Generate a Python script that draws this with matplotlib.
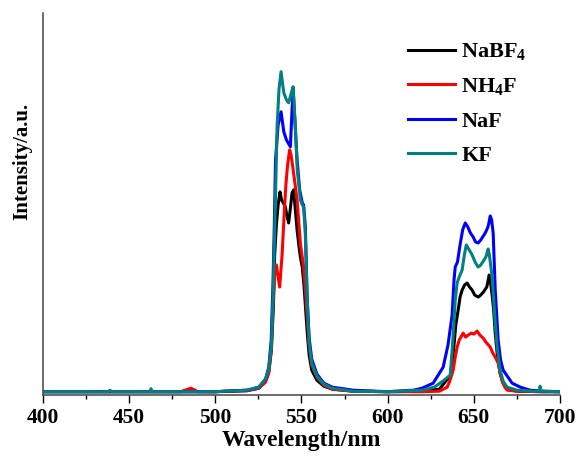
import matplotlib
matplotlib.use("Agg")
import matplotlib.pyplot as plt
from matplotlib.ticker import MultipleLocator, NullLocator

plt.rcParams["font.family"] = ["Liberation Serif", "DejaVu Serif"]
plt.rcParams["font.weight"] = "bold"
plt.rcParams["mathtext.fontset"] = "custom"
plt.rcParams["mathtext.rm"] = "Liberation Serif:bold"
plt.rcParams["mathtext.bf"] = "Liberation Serif:bold"

# ---------- data (a.u.) ----------
labels = [r"NaBF$_4$", r"NH$_4$F", "NaF", "KF"]
colors = ["#000000", "#ff0000", "#0000ff", "#008080"]

wl_nabf4 = [400, 450, 500, 518.5, 525.3, 529.2, 531.1, 532.6, 533.8, 534.5, 535.5, 536.5, 537.6,
            538.5, 539.5, 540.7, 541.5, 542.6, 543.5, 544.6, 545.5, 546.5, 547.5, 548.5, 549.4,
            550.5, 551.5, 552.5, 553.5, 554.5, 556, 559, 563, 568, 580, 600, 620, 630, 636.5,
            638.5, 639.5, 640.9, 642, 643.2, 644.6, 646.1, 647.5, 649, 650.5, 652.5, 654, 655.5,
            657.5, 658.9, 659.5, 660.6, 661.5, 662.4, 663.5, 665.2, 667, 669.3, 675, 690, 700]
in_nabf4 = [3.5, 3.5, 3.5, 4.5, 7, 14, 24, 45, 90, 140, 170, 190, 203,
            195, 192, 188, 180, 172, 185, 202, 205, 185, 165, 150, 138,
            128, 110, 85, 60, 40, 25, 15, 9, 6, 4, 3.5, 4, 6, 20,
            50, 70, 85, 98, 105, 110, 112, 108, 105, 100, 98, 100, 103,
            108, 120, 115, 100, 85, 62, 42, 22, 12, 6, 4, 3.5, 3.5]

wl_nh4f = [400, 450, 480, 486, 490, 500, 518.5, 525.3, 529.2, 531.1, 532.5, 533.5, 534.5, 535.5,
           536.5, 537.4, 538.8, 540, 541, 542, 543.2, 544, 545, 546, 547.5, 548.5, 549.5,
           550.5, 551.5, 552.5, 553.3, 554.5, 556, 559, 563, 568, 580, 600, 620, 630, 634.5,
           636, 638, 639.2, 640.3, 641.5, 643.8, 645.2, 646.7, 648.5, 650, 651.9, 653.5, 655.4,
           657, 659.5, 661, 662.4, 664.1, 665.3, 666.4, 668, 669.3, 675, 690, 700]
in_nh4f = [3.5, 3.5, 3.5, 7, 3.5, 3.5, 4.5, 7, 13, 22, 45, 90, 120, 130,
           118, 108, 140, 180, 210, 230, 245, 240, 228, 215, 195, 172, 150,
           138, 125, 100, 80, 50, 30, 18, 10, 6, 4, 3.5, 3.5, 4, 8,
           14, 25, 38, 48, 55, 62, 58, 60, 62, 61, 64, 60, 57,
           53, 48, 42, 38, 32, 22, 14, 8, 5, 4, 3.5, 3.5]

wl_naf = [400, 450, 500, 518.5, 525.3, 529.2, 531.1, 532.5, 533.5, 534.3, 535.0, 536.5, 538.2,
          539.8, 541.3, 543.6, 544.6, 545.2, 546.2, 547.5, 549, 550.5, 551.3, 552.3, 553.3,
          554.5, 556, 559, 563, 568, 580, 600, 615, 620, 626.4, 632.2, 635, 637.4, 638.5, 639.2,
          640.5, 642, 643.5, 645, 646.5, 648, 649.6, 651, 652.5, 654, 656.6, 657.7, 658.5,
          659.5, 660.3, 661.2, 662.4, 664.1, 665.5, 667, 672.2, 677, 682.6, 690, 700]
in_naf = [3.5, 3.5, 3.5, 5, 8, 16, 28, 55, 110, 170, 235, 270, 283,
          263, 255, 248, 285, 306, 275, 235, 205, 192, 190, 168, 100,
          57, 36, 21, 12, 8, 5, 3.5, 5, 7, 12, 28, 50, 80, 115, 128,
          133, 150, 165, 172, 168, 162, 158, 153, 152, 155, 162, 166, 170,
          179, 175, 162, 105, 55, 35, 25, 12, 8, 5, 4, 3.5]

wl_kf = [400, 438, 439, 440, 462, 462.8, 463.5, 500, 518.5, 525.3, 529.2, 531.1, 532.6, 533.6,
         534.6, 535.9, 537, 538.2, 539.8, 541.3, 542.6, 544.2, 545.2, 546.5, 547.6, 549.4,
         550.5, 551.3, 552.3, 553.3, 554.5, 556, 559, 563, 568, 580, 600, 620, 627, 632,
         636.3, 637.4, 638, 639.2, 640.3, 641.5, 643.2, 644.5, 645.6, 647, 649, 651, 652.5,
         654, 655.5, 657, 658.3, 659, 660.6, 661.5, 662.4, 663.5, 665.2, 667, 669.3, 675,
         685, 688, 688.4, 689, 700]
in_kf = [3.5, 3.5, 5, 3.5, 3.5, 6.5, 3.5, 3.5, 5, 8, 16, 27, 50, 100,
         170, 268, 305, 323, 302, 295, 292, 302, 308, 268, 225, 195,
         190, 188, 160, 98, 52, 32, 19, 11, 7, 4, 3.5, 5, 8, 14,
         20, 45, 60, 95, 112, 118, 125, 140, 150, 146, 140, 132, 128,
         130, 134, 138, 146, 140, 118, 95, 72, 48, 25, 14, 8, 5,
         4, 4, 9, 4, 3.5]

series = [(wl_nabf4, in_nabf4), (wl_nh4f, in_nh4f), (wl_naf, in_naf), (wl_kf, in_kf)]

# ---------- plot ----------
fig = plt.figure(figsize=(5.81, 4.59), dpi=100)
ax = fig.add_axes([0.0735, 0.139, 0.8905, 0.8335])

for (x, y), c, lab in zip(series, colors, labels):
    ax.plot(x, y, color=c, lw=2.2, label=lab)

ax.set_xlim(400, 700)
ax.set_ylim(0, 382)
ax.xaxis.set_major_locator(MultipleLocator(50))
ax.xaxis.set_minor_locator(MultipleLocator(25))
ax.yaxis.set_major_locator(NullLocator())
ax.tick_params(axis="x", which="major", direction="out", length=6, width=1, labelsize=15.5, pad=3)
ax.tick_params(axis="x", which="minor", direction="out", length=3, width=1)

for s in ["top", "right"]:
    ax.spines[s].set_visible(False)
for s in ["left", "bottom"]:
    ax.spines[s].set_color("#444444")
    ax.spines[s].set_linewidth(1.1)

ax.set_xlabel("Wavelength/nm", fontsize=17, fontweight="bold", labelpad=2)
ax.set_ylabel("Intensity/a.u.", fontsize=15, fontweight="bold")
ax.yaxis.set_label_coords(-0.02, 0.612)

ax.legend(loc="upper left", bbox_to_anchor=(0.706, 0.925), frameon=False,
          fontsize=16, handlelength=2.1, handletextpad=0.3, labelspacing=0.6,
          borderpad=0, borderaxespad=0)

fig.savefig("out.png", dpi=100)
